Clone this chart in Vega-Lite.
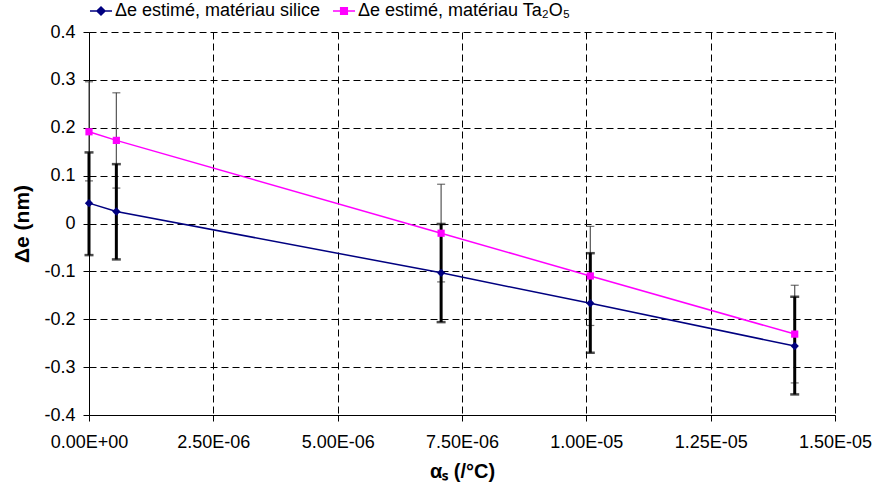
{
  "$schema": "https://vega.github.io/schema/vega-lite/v6.json",
  "width": 746,
  "height": 383,
  "autosize": {"type": "none"},
  "padding": {"left": 89, "top": 32, "right": 40, "bottom": 78},
  "background": "white",
  "config": {
    "view": {"stroke": null},
    "font": "Liberation Sans",
    "axis": {
      "labelFont": "Liberation Sans",
      "labelFontSize": 18,
      "labelColor": "black",
      "domainColor": "black",
      "domainWidth": 1,
      "tickColor": "black",
      "tickSize": 6,
      "gridColor": "black",
      "gridDash": [7, 4],
      "gridWidth": 1,
      "gridOpacity": 1,
      "titleFont": "Liberation Sans",
      "titleFontWeight": "bold",
      "titleColor": "black"
    }
  },
  "data": {
    "values": [
      {"series": "Δe estimé, matériau silice", "x": 0, "y": 0.0425, "lo": -0.066, "hi": 0.1485},
      {"series": "Δe estimé, matériau silice", "x": 5.5e-7, "y": 0.025, "lo": -0.075, "hi": 0.124},
      {"series": "Δe estimé, matériau silice", "x": 7.08e-6, "y": -0.103, "lo": -0.206, "hi": -0.001},
      {"series": "Δe estimé, matériau silice", "x": 1.008e-5, "y": -0.1667, "lo": -0.27, "hi": -0.062},
      {"series": "Δe estimé, matériau silice", "x": 1.419e-5, "y": -0.256, "lo": -0.357, "hi": -0.153},
      {"series": "Δe estimé, matériau Ta₂O₅", "x": 0, "y": 0.1916, "lo": 0.089, "hi": 0.296},
      {"series": "Δe estimé, matériau Ta₂O₅", "x": 5.5e-7, "y": 0.1736, "lo": 0.074, "hi": 0.273},
      {"series": "Δe estimé, matériau Ta₂O₅", "x": 7.08e-6, "y": -0.0203, "lo": -0.122, "hi": 0.082},
      {"series": "Δe estimé, matériau Ta₂O₅", "x": 1.008e-5, "y": -0.1096, "lo": -0.213, "hi": -0.006},
      {"series": "Δe estimé, matériau Ta₂O₅", "x": 1.419e-5, "y": -0.231, "lo": -0.333, "hi": -0.129}
    ]
  },
  "encoding": {
    "x": {
      "field": "x",
      "type": "quantitative",
      "scale": {"domain": [0, 1.5e-5], "nice": false, "zero": false},
      "axis": {
        "values": [0, 2.5e-6, 5e-6, 7.5e-6, 1e-5, 1.25e-5, 1.5e-5],
        "labelExpr": "datum.value == 0 ? '0.00E+00' : format(datum.value / pow(10, floor(log(datum.value) / LN10 + 1e-9)), '.2f') + 'E-' + format(-floor(log(datum.value) / LN10 + 1e-9), '02d')",
        "labelPadding": 12,
        "title": "αₛ (/°C)",
        "titleFontSize": 20,
        "titleBaseline": "middle",
        "titleY": 56,
        "labelFlush": false,
        "labelOverlap": false
      }
    },
    "y": {
      "field": "y",
      "type": "quantitative",
      "scale": {"domain": [-0.4, 0.4], "nice": false, "zero": false},
      "axis": {
        "values": [-0.4, -0.3, -0.2, -0.1, 0, 0.1, 0.2, 0.3, 0.4],
        "labelExpr": "datum.value == 0 ? '0' : (datum.value < 0 ? '-' : '') + format(abs(datum.value), '.1f')",
        "labelPadding": 8,
        "title": "Δe (nm)",
        "titleFontSize": 21,
        "titleAngle": -90,
        "titleBaseline": "middle",
        "titleAlign": "center",
        "titleX": -67,
        "titleY": 191.5,
        "labelOverlap": false
      }
    }
  },
  "layer": [
    {
      "transform": [{"filter": "datum.series == 'Δe estimé, matériau Ta₂O₅'"}],
      "mark": {"type": "rule", "color": "#555555", "strokeWidth": 1.2},
      "encoding": {"y": {"field": "lo", "type": "quantitative"}, "y2": {"field": "hi"}}
    },
    {
      "transform": [{"filter": "datum.series == 'Δe estimé, matériau Ta₂O₅'"}],
      "mark": {"type": "tick", "orient": "horizontal", "color": "#333333", "size": 8, "thickness": 1.2},
      "encoding": {"y": {"field": "lo", "type": "quantitative"}}
    },
    {
      "transform": [{"filter": "datum.series == 'Δe estimé, matériau Ta₂O₅'"}],
      "mark": {"type": "tick", "orient": "horizontal", "color": "#333333", "size": 8, "thickness": 1.2},
      "encoding": {"y": {"field": "hi", "type": "quantitative"}}
    },
    {
      "transform": [{"filter": "datum.series == 'Δe estimé, matériau silice'"}],
      "mark": {"type": "rule", "color": "black", "strokeWidth": 3},
      "encoding": {"y": {"field": "lo", "type": "quantitative"}, "y2": {"field": "hi"}}
    },
    {
      "transform": [{"filter": "datum.series == 'Δe estimé, matériau silice'"}],
      "mark": {"type": "tick", "orient": "horizontal", "color": "black", "size": 9, "thickness": 2.5},
      "encoding": {"y": {"field": "lo", "type": "quantitative"}}
    },
    {
      "transform": [{"filter": "datum.series == 'Δe estimé, matériau silice'"}],
      "mark": {"type": "tick", "orient": "horizontal", "color": "black", "size": 9, "thickness": 2.5},
      "encoding": {"y": {"field": "hi", "type": "quantitative"}}
    },
    {
      "transform": [{"filter": "datum.series == 'Δe estimé, matériau silice'"}],
      "mark": {"type": "line", "color": "#000080", "strokeWidth": 1.5},
      "encoding": {}
    },
    {
      "transform": [{"filter": "datum.series == 'Δe estimé, matériau Ta₂O₅'"}],
      "mark": {"type": "line", "color": "#FF00FF", "strokeWidth": 1.5},
      "encoding": {}
    },
    {
      "transform": [{"filter": "datum.series == 'Δe estimé, matériau silice'"}],
      "mark": {"type": "point", "shape": "diamond", "filled": true, "color": "#000080", "size": 70, "opacity": 1},
      "encoding": {}
    },
    {
      "transform": [{"filter": "datum.series == 'Δe estimé, matériau Ta₂O₅'"}],
      "mark": {"type": "point", "shape": "square", "filled": true, "color": "#FF00FF", "size": 52, "opacity": 1},
      "encoding": {}
    },
    {
      "mark": {"type": "point", "filled": true, "opacity": 0},
      "encoding": {
        "fill": {
          "field": "series", "type": "nominal",
          "scale": {"domain": ["Δe estimé, matériau silice", "Δe estimé, matériau Ta₂O₅"], "range": ["#000080", "#FF00FF"]},
          "legend": {
            "orient": "none",
            "direction": "horizontal",
            "legendX": 3,
            "legendY": -30,
            "title": null,
            "symbolSize": 216,
            "symbolStrokeWidth": 1.5,
            "symbolOpacity": 1,
            "labelFont": "Liberation Sans",
            "labelFontSize": 18,
            "labelColor": "black",
            "labelOffset": 5,
            "columnPadding": 8,
            "labelLimit": 400
          }
        },
        "stroke": {
          "field": "series", "type": "nominal",
          "scale": {"domain": ["Δe estimé, matériau silice", "Δe estimé, matériau Ta₂O₅"], "range": ["#000080", "#FF00FF"]},
          "legend": {
            "orient": "none",
            "direction": "horizontal",
            "legendX": 3,
            "legendY": -30,
            "title": null,
            "symbolSize": 216,
            "symbolStrokeWidth": 1.5,
            "symbolOpacity": 1,
            "labelFont": "Liberation Sans",
            "labelFontSize": 18,
            "labelColor": "black",
            "labelOffset": 5,
            "columnPadding": 8,
            "labelLimit": 400
          }
        },
        "shape": {
          "field": "series", "type": "nominal",
          "scale": {"domain": ["Δe estimé, matériau silice", "Δe estimé, matériau Ta₂O₅"], "range": ["M-1.5,0H1.5M0,-0.55L0.55,0L0,0.55L-0.55,0Z", "M-1.5,0H1.5M-0.45,-0.45H0.45V0.45H-0.45Z"]},
          "legend": {
            "orient": "none",
            "direction": "horizontal",
            "legendX": 3,
            "legendY": -30,
            "title": null,
            "symbolSize": 216,
            "symbolStrokeWidth": 1.5,
            "symbolOpacity": 1,
            "labelFont": "Liberation Sans",
            "labelFontSize": 18,
            "labelColor": "black",
            "labelOffset": 5,
            "columnPadding": 8,
            "labelLimit": 400
          }
        }
      }
    }
  ]
}
